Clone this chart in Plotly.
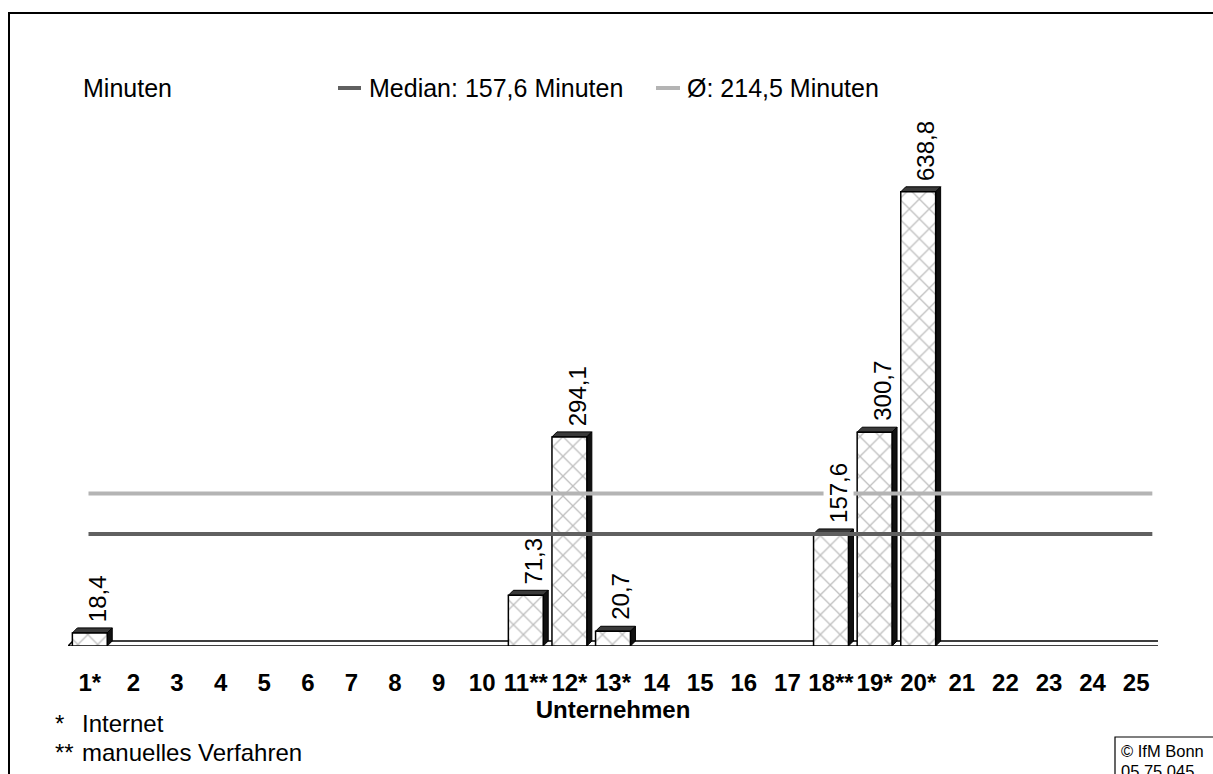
import plotly.graph_objects as go

# ---------------- data ----------------
categories = ["1*", "2", "3", "4", "5", "6", "7", "8", "9", "10", "11**", "12*", "13*",
              "14", "15", "16", "17", "18**", "19*", "20*", "21", "22", "23", "24", "25"]
minutes = [18.4, None, None, None, None, None, None, None, None, None, 71.3, 294.1, 20.7,
           None, None, None, None, 157.6, 300.7, 638.8, None, None, None, None, None]
value_labels = ["18,4", None, None, None, None, None, None, None, None, None, "71,3", "294,1", "20,7",
                None, None, None, None, "157,6", "300,7", "638,8", None, None, None, None, None]
median_value = 157.6
mean_value = 214.5
median_label = "Median: 157,6 Minuten"
mean_label = "Ø: 214,5 Minuten"
y_title = "Minuten"
x_title = "Unternehmen"
footnotes = [("*", "Internet"), ("**", "manuelles Verfahren")]
copyright_lines = ["© IfM Bonn", "05 75 045"]

# ---------------- layout geometry ----------------
W, H = 1213, 774
ML, MR, MT, MB = 68, 55, 100, 128
PW, PH = W - ML - MR, H - MT - MB
PX_PER_UNIT = 0.711
Y_MAX = PH / PX_PER_UNIT
N = len(categories)
xs = list(range(1, N + 1))
CAT_PX = PW / N
BAR_W = 0.8
DX = 5 / CAT_PX          # 3D depth offset in x data units
DY = 5 / PX_PER_UNIT     # 3D depth offset in y data units

FONT = "Liberation Sans, Arial, sans-serif"
MEDIAN_COLOR = "#606060"
MEAN_COLOR = "#b4b4b4"
FS = 24


def px_x(p):
    return (p - ML) / PW


def px_y(p):
    return 1 - (p - MT) / PH


fig = go.Figure()

# bars
fig.add_trace(go.Bar(
    x=xs, y=minutes, width=BAR_W,
    marker=dict(color="white",
                line=dict(color="black", width=1.5),
                pattern=dict(shape="x", fgcolor="#808080", bgcolor="white", size=14, solidity=0.18)),
    hoverinfo="x+y", showlegend=False,
))

# reference lines (drawn over the bars)
line_x = [xs[0] - 0.03, xs[-1] + 0.37]
fig.add_trace(go.Scatter(x=line_x, y=[median_value] * 2, mode="lines",
                         line=dict(color=MEDIAN_COLOR, width=4), showlegend=False, hoverinfo="y"))
fig.add_trace(go.Scatter(x=line_x, y=[mean_value] * 2, mode="lines",
                         line=dict(color=MEAN_COLOR, width=4), showlegend=False, hoverinfo="y"))

shapes = []
# floor slab
x_left, x_right = 0.5, N + 0.56
shapes.append(dict(type="path", xref="x", yref="y", layer="below",
                   path=f"M {x_left},0 L {x_right},0 L {x_right + DX},{DY} L {x_left + DX},{DY} Z",
                   fillcolor="white", line=dict(color="black", width=1.5)))
# 3D top and side faces of the bars
for x, v in zip(xs, minutes):
    if v is None:
        continue
    l, r = x - BAR_W / 2, x + BAR_W / 2
    shapes.append(dict(type="path", xref="x", yref="y", layer="below",
                       path=f"M {l},{v} L {l + DX},{v + DY} L {r + DX},{v + DY} L {r},{v} Z",
                       fillcolor="#3a3a3a", line=dict(color="black", width=1)))
    shapes.append(dict(type="path", xref="x", yref="y", layer="below",
                       path=f"M {r},{v} L {r + DX},{v + DY} L {r + DX},{DY} L {r},0 Z",
                       fillcolor="#111111", line=dict(color="black", width=1)))

# outer frame
shapes.append(dict(type="rect", xref="paper", yref="paper",
                   x0=px_x(9), x1=px_x(W + 20), y0=px_y(13), y1=px_y(H + 20),
                   line=dict(color="black", width=2), fillcolor="rgba(0,0,0,0)", layer="above"))
# legend samples
shapes.append(dict(type="line", xref="paper", yref="paper", x0=px_x(338), x1=px_x(361),
                   y0=px_y(88), y1=px_y(88), line=dict(color=MEDIAN_COLOR, width=4)))
shapes.append(dict(type="line", xref="paper", yref="paper", x0=px_x(656), x1=px_x(680),
                   y0=px_y(88), y1=px_y(88), line=dict(color=MEAN_COLOR, width=4)))
# copyright box
shapes.append(dict(type="rect", xref="paper", yref="paper",
                   x0=px_x(1115), x1=px_x(W + 20), y0=px_y(737), y1=px_y(H + 20),
                   line=dict(color="black", width=1.2), fillcolor="white", layer="above"))

annotations = []
for x, v, t in zip(xs, minutes, value_labels):
    if v is None:
        continue
    annotations.append(dict(x=x, y=v, xref="x", yref="y", text=t, showarrow=False,
                            textangle=-90, xanchor="center", yanchor="bottom",
                            xshift=8, yshift=9, bgcolor="white", borderpad=1,
                            font=dict(family=FONT, size=FS, color="black")))

annotations.append(dict(x=px_x(81), y=px_y(88), xref="paper", yref="paper", text=y_title,
                        showarrow=False, xanchor="left", yanchor="middle",
                        font=dict(family=FONT, size=25, color="black")))
annotations.append(dict(x=px_x(367), y=px_y(88), xref="paper", yref="paper", text=median_label,
                        showarrow=False, xanchor="left", yanchor="middle",
                        font=dict(family=FONT, size=25, color="black")))
annotations.append(dict(x=px_x(685), y=px_y(88), xref="paper", yref="paper", text=mean_label,
                        showarrow=False, xanchor="left", yanchor="middle",
                        font=dict(family=FONT, size=25, color="black")))
for i, (mark, txt) in enumerate(footnotes):
    yy = 723 + i * 29
    annotations.append(dict(x=px_x(53), y=px_y(yy), xref="paper", yref="paper", text=mark,
                            showarrow=False, xanchor="left", yanchor="middle",
                            font=dict(family=FONT, size=FS, color="black")))
    annotations.append(dict(x=px_x(80), y=px_y(yy), xref="paper", yref="paper", text=txt,
                            showarrow=False, xanchor="left", yanchor="middle",
                            font=dict(family=FONT, size=FS, color="black")))
for i, txt in enumerate(copyright_lines):
    annotations.append(dict(x=px_x(1119), y=px_y(751 + i * 20), xref="paper", yref="paper", text=txt,
                            showarrow=False, xanchor="left", yanchor="middle",
                            font=dict(family=FONT, size=16.5, color="black")))

fig.update_layout(
    width=W, height=H,
    margin=dict(l=ML, r=MR, t=MT, b=MB, pad=0),
    paper_bgcolor="white", plot_bgcolor="white",
    font=dict(family=FONT, color="black"),
    shapes=shapes, annotations=annotations,
    showlegend=False, bargap=0.2,
    xaxis=dict(range=[0.5, N + 0.5], tickmode="array", tickvals=xs,
               ticktext=[f"<b>{c}</b>" for c in categories],
               tickfont=dict(family=FONT, size=FS, color="black"),
               ticklabelstandoff=20,
               showgrid=False, zeroline=False, showline=False, ticks="",
               title=dict(text=f"<b>{x_title}</b>", font=dict(family=FONT, size=FS, color="black"),
                          standoff=0)),
    yaxis=dict(range=[0, Y_MAX], visible=False, showgrid=False, zeroline=False),
)

fig.write_html("out.html", config={"displayModeBar": False},
               post_script="document.body.style.margin='0';document.body.style.overflow='hidden';")
